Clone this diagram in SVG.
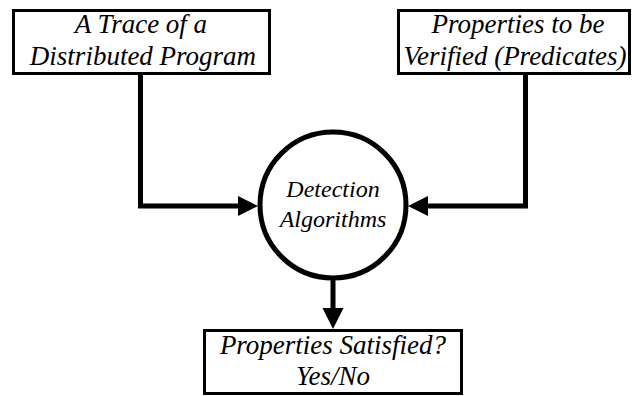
<svg xmlns="http://www.w3.org/2000/svg" width="632" height="396" viewBox="0 0 632 396">
  <style>
    .box { fill: #fff; stroke: #000; stroke-width: 3; }
    .node-circle { fill: #fff; stroke: #000; stroke-width: 5; }
    .label { font-family: "Liberation Serif", "Times New Roman", serif; font-style: italic; fill: #000; text-anchor: middle; }
    .big { font-size: 27px; }
    .mid { font-size: 24px; }
    .wire { fill: none; stroke: #000; stroke-width: 5; stroke-linejoin: miter; }
    .head { fill: #000; }
  </style>
  <rect width="632" height="396" fill="#fff"/>

  <!-- flow lines with filled arrowheads -->
  <g id="connectors">
    <path class="wire" d="M140.5,75 V206 H238" />
    <path class="head" d="M238,196 L258,206 L238,216 Z"/>
    <path class="wire" d="M525.5,75 V206 H428" />
    <path class="head" d="M428,196 L408,206 L428,216 Z"/>
    <path class="wire" d="M333,280 V308" />
    <path class="head" d="M322.5,308 L333,329 L343.5,308 Z"/>
  </g>

  <g id="trace">
    <rect class="box" x="13.5" y="10.5" width="256" height="63"/>
    <text class="label big" x="141" y="33">A Trace of a</text>
    <text class="label big" x="143" y="65">Distributed Program</text>
  </g>

  <g id="properties">
    <rect class="box" x="398.5" y="10.5" width="231" height="63"/>
    <text class="label big" x="518" y="33">Properties to be</text>
    <text class="label big" x="515" y="65">Verified (Predicates)</text>
  </g>

  <g id="detection">
    <circle class="node-circle" cx="333" cy="205" r="73"/>
    <text class="label mid" x="333" y="197">Detection</text>
    <text class="label mid" x="333" y="227">Algorithms</text>
  </g>

  <g id="result">
    <rect class="box" x="204.5" y="330.5" width="257" height="63"/>
    <text class="label big" x="333" y="354">Properties Satisfied?</text>
    <text class="label big" x="333" y="385">Yes/No</text>
  </g>
</svg>
